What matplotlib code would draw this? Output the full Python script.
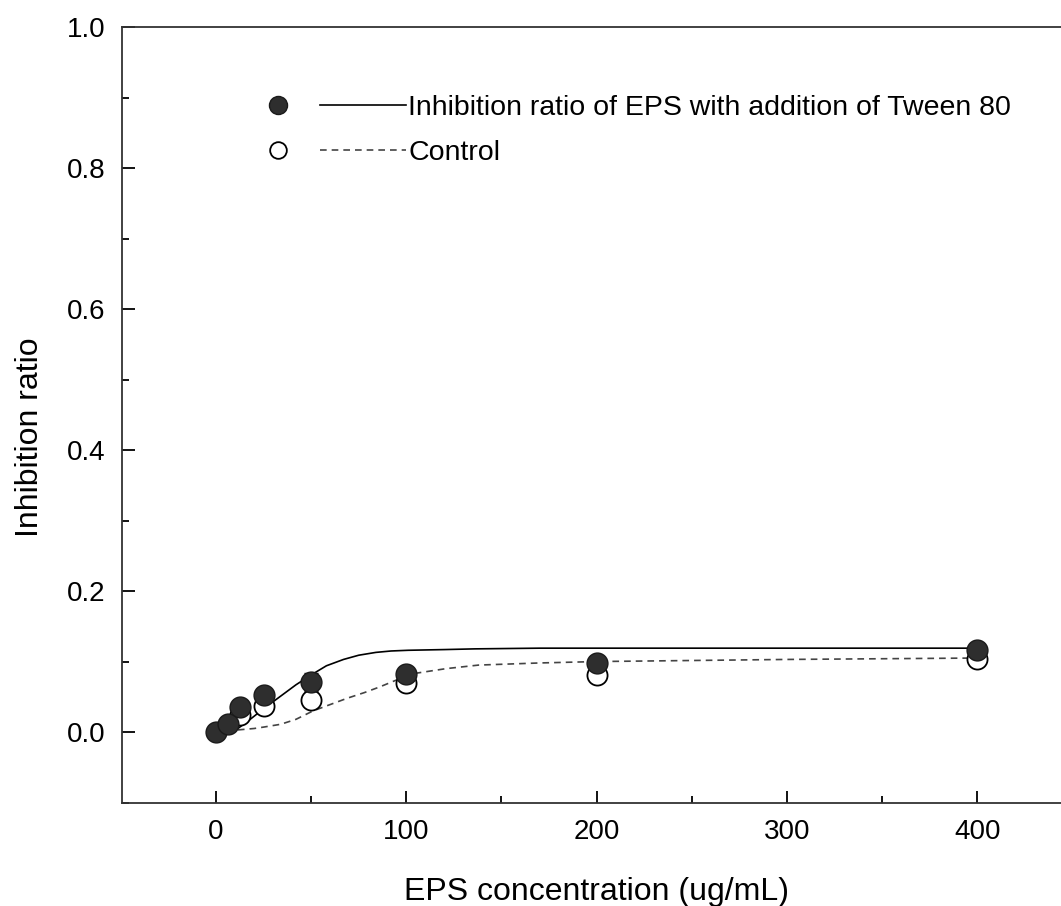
import matplotlib
matplotlib.use("Agg")
import matplotlib.pyplot as plt
from matplotlib.legend_handler import HandlerTuple
from matplotlib.ticker import MultipleLocator

plt.rcParams["font.family"] = ["Liberation Sans", "DejaVu Sans"]

# measured points
conc_tween = [0, 6.25, 12.5, 25, 50, 100, 200, 400]
ratio_tween = [0.0, 0.011, 0.036, 0.052, 0.071, 0.083, 0.098, 0.117]
err_tween = [0.002, 0.003, 0.004, 0.004, 0.013, 0.004, 0.004, 0.003]

conc_ctrl = [12.5, 25, 50, 100, 200, 400]
ratio_ctrl = [0.024, 0.037, 0.046, 0.070, 0.081, 0.103]
err_ctrl = [0.005, 0.005, 0.006, 0.005, 0.006, 0.005]

# fitted curves
fit_x_tween = [11.5, 17, 25, 34, 42, 50, 58, 67, 75, 84, 92, 101, 120, 136, 170, 200, 300, 400]
fit_y_tween = [0.005, 0.016, 0.033, 0.051, 0.067, 0.081, 0.094, 0.103, 0.109, 0.113, 0.115, 0.116,
               0.117, 0.118, 0.119, 0.119, 0.119, 0.119]
fit_x_ctrl = [11.5, 20, 25, 34, 42, 51, 60, 69, 78, 86, 95, 104, 121, 138, 170, 200, 300, 400]
fit_y_ctrl = [0.003, 0.005, 0.007, 0.011, 0.018, 0.030, 0.039, 0.048, 0.056, 0.064, 0.074, 0.083,
              0.090, 0.095, 0.098, 0.100, 0.103, 0.105]

fig = plt.figure(figsize=(10.61, 9.06), dpi=100)
ax = fig.add_axes([122 / 1061, 1 - 802.5 / 906, 1 - 122 / 1061, (802.5 - 27.3) / 906])

line_ctrl, = ax.plot(fit_x_ctrl, fit_y_ctrl, color="#444444", lw=1.2, dashes=(4, 3), zorder=2)
line_tween, = ax.plot(fit_x_tween, fit_y_tween, color="black", lw=1.2, zorder=2)

ax.errorbar(conc_ctrl, ratio_ctrl, yerr=err_ctrl, fmt="o", ms=14.5, mfc="white", mec="black",
            mew=1.3, ecolor="black", elinewidth=1.0, capsize=5, capthick=1.0, zorder=3)
ax.errorbar(conc_tween, ratio_tween, yerr=err_tween, fmt="o", ms=15, mfc="#2e2e2e", mec="#1a1a1a",
            mew=1.0, ecolor="black", elinewidth=1.0, capsize=5, capthick=1.0, zorder=4)

mk_tween, = ax.plot([], [], "o", ms=13, mfc="#2e2e2e", mec="#1a1a1a", ls="none")
mk_ctrl, = ax.plot([], [], "o", ms=12, mfc="white", mec="black", mew=1.3, ls="none")
fs_leg = 20.5
ax.legend([(mk_tween, line_tween), (mk_ctrl, line_ctrl)],
          ["Inhibition ratio of EPS with addition of Tween 80", "Control"],
          handler_map={tuple: HandlerTuple(ndivide=2, pad=0.0)},
          loc="upper left", bbox_to_anchor=(0.108, 0.927), frameon=False,
          fontsize=fs_leg, handlelength=6.0, handletextpad=0.1, labelspacing=0.66,
          borderaxespad=0)

ax.set_xlim(-49.4, 444)
ax.set_ylim(-0.1, 1.0)
ax.xaxis.set_major_locator(MultipleLocator(100))
ax.xaxis.set_minor_locator(MultipleLocator(50))
ax.yaxis.set_minor_locator(MultipleLocator(0.1))
ax.set_yticks([0.0, 0.2, 0.4, 0.6, 0.8, 1.0])
ax.set_yticklabels(["0.0", "0.2", "0.4", "0.6", "0.8", "1.0"])
ax.tick_params(which="both", direction="in", top=False, right=False, labelsize=20, width=1.3)
ax.tick_params(which="major", length=9, pad=12)
ax.tick_params(which="minor", length=5)
ax.spines["right"].set_visible(False)
for s in ("left", "bottom", "top"):
    ax.spines[s].set_linewidth(1.3)
    ax.spines[s].set_color("#333333")

ax.set_xlabel("EPS concentration (ug/mL)", fontsize=23)
ax.set_ylabel("Inhibition ratio", fontsize=23)
ax.xaxis.set_label_coords(0.505, -0.096)
ax.yaxis.set_label_coords(-0.082, 0.4715)

fig.savefig("out.png", dpi=100)
